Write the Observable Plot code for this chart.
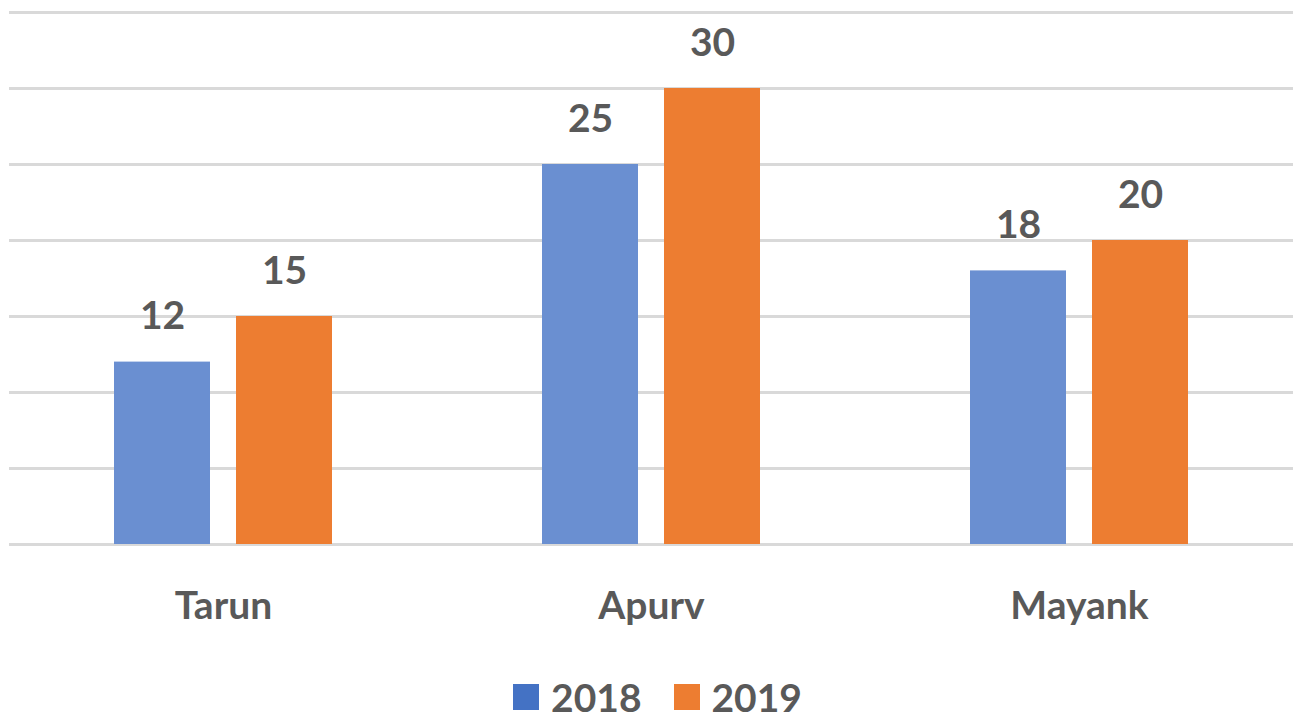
<!DOCTYPE html>
<html>
<head>
<meta charset="utf-8">
<script src="https://cdn.jsdelivr.net/npm/d3@7"></script>
<script src="https://cdn.jsdelivr.net/npm/@observablehq/plot@0.6"></script>
<style>
  html, body { margin: 0; padding: 0; background: #fff; }
  body { width: 1301px; height: 717px; overflow: hidden; font-family: Lato, "Open Sans", sans-serif; }
  #legend { height: 57px; margin-top: 8px; display: flex; justify-content: center; align-items: center; padding-left: 14px; box-sizing: border-box; font-weight: 700; font-size: 39px; color: #595959; }
  .item { display: flex; align-items: center; margin: 0 16px; }
  .sw { width: 26px; height: 26px; margin-right: 12px; }
</style>
</head>
<body>
<div id="chart"></div>
<div id="legend"></div>
<script>
const categories = ["Tarun", "Apurv", "Mayank"];
const years = ["2018", "2019"];
const values2018 = [12, 25, 18];
const values2019 = [15, 30, 20];
const gridValues = [0, 5, 10, 15, 20, 25, 30, 35];
const barColors = ["#6a8fd1", "#ed7d31"];
const legendColors = ["#4472c4", "#ed7d31"];

const data = categories.flatMap((c, i) => [
  {cat: c, year: years[0], value: values2018[i]},
  {cat: c, year: years[1], value: values2019[i]}
]);

const chart = Plot.plot({
  width: 1301,
  height: 660,
  marginTop: 12,
  marginBottom: 116,
  marginLeft: 8,
  marginRight: 8,
  style: {fontFamily: "Lato, 'Open Sans', sans-serif", fontSize: "39px", fontWeight: "bold", color: "#595959", background: "#fff"},
  fx: {domain: categories, padding: 0, label: null, tickSize: 0, tickPadding: 47},
  x: {domain: years, paddingInner: 0.2114, paddingOuter: 0.8467, axis: null},
  y: {domain: [0, 35], axis: null},
  color: {domain: years, range: barColors},
  marks: [
    Plot.ruleY(gridValues, {stroke: "#d9d9d9", strokeWidth: 3}),
    Plot.barY(data, {fx: "cat", x: "year", y: "value", fill: "year"}),
    Plot.text(data, {fx: "cat", x: "year", y: "value", text: d => String(d.value), dy: -33, lineAnchor: "bottom", fontSize: 39, fontWeight: "bold", fill: "#595959"})
  ]
});
document.getElementById("chart").appendChild(chart);

const legend = document.getElementById("legend");
years.forEach((y, i) => {
  const item = document.createElement("div");
  item.className = "item";
  const sw = document.createElement("div");
  sw.className = "sw";
  sw.style.background = legendColors[i];
  const t = document.createElement("span");
  t.textContent = y;
  item.appendChild(sw);
  item.appendChild(t);
  legend.appendChild(item);
});
</script>
</body>
</html>
